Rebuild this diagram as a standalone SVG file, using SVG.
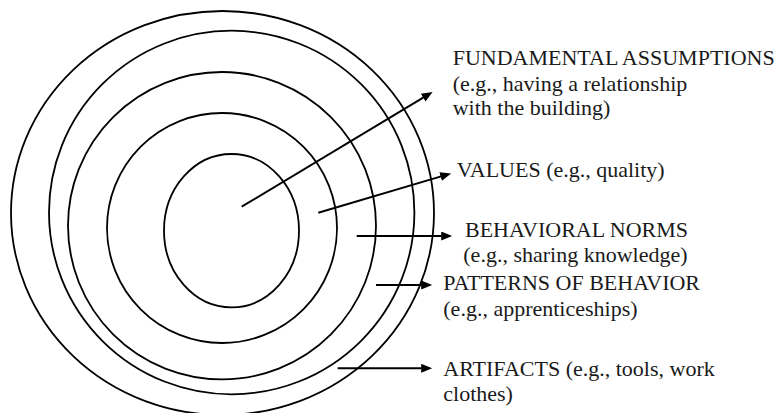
<svg xmlns="http://www.w3.org/2000/svg" width="778" height="413" viewBox="0 0 778 413">
<style>
.ring{fill:none;stroke:#000;stroke-width:1.8}
.conn{stroke:#000;stroke-width:2;fill:none}
.lbl{font-family:'Liberation Serif','Times New Roman',serif;font-size:22px;fill:#1a1a1a}
</style>
<defs>
<marker id="ah" markerUnits="userSpaceOnUse" markerWidth="12" markerHeight="10" refX="0.5" refY="4.5" orient="auto">
<path d="M0,0 L11,4.5 L0,9 z" fill="#000"/>
</marker>
</defs>
<rect width="778" height="413" fill="#fff"/>
<g id="ring-artifacts"><ellipse class="ring" cx="222.5" cy="213" rx="211.5" ry="202"/></g>
<g id="ring-patterns"><ellipse class="ring" cx="231.7" cy="212.5" rx="182.7" ry="181.8"/></g>
<g id="ring-norms"><ellipse class="ring" cx="222" cy="225.7" rx="154" ry="153.7"/></g>
<g id="ring-values"><ellipse class="ring" cx="222" cy="228" rx="115" ry="115"/></g>
<g id="ring-assumptions"><ellipse class="ring" cx="231.5" cy="230.7" rx="67.5" ry="76.7"/></g>
<g id="connectors">
<line class="conn" x1="241.7" y1="206.7" x2="423.6" y2="97.4" marker-end="url(#ah)"/>
<line class="conn" x1="318.3" y1="212.7" x2="441.1" y2="176.4" marker-end="url(#ah)"/>
<line class="conn" x1="356.7" y1="236" x2="441.7" y2="236" marker-end="url(#ah)"/>
<line class="conn" x1="376" y1="285" x2="421.7" y2="285" marker-end="url(#ah)"/>
<line class="conn" x1="337.7" y1="368.3" x2="421.7" y2="368.3" marker-end="url(#ah)"/>
</g>
<g id="label-assumptions" class="lbl">
<text x="452.7" y="65">FUNDAMENTAL ASSUMPTIONS</text>
<text x="452.7" y="90.5">(e.g., having a relationship</text>
<text x="452.7" y="115">with the building)</text>
</g>
<g id="label-values" class="lbl"><text x="456.7" y="176.7">VALUES (e.g., quality)</text></g>
<g id="label-norms" class="lbl">
<text x="465" y="236.7">BEHAVIORAL NORMS</text>
<text x="463.3" y="261.7">(e.g., sharing knowledge)</text>
</g>
<g id="label-patterns" class="lbl">
<text x="443.3" y="290">PATTERNS OF BEHAVIOR</text>
<text x="443.3" y="316">(e.g., apprenticeships)</text>
</g>
<g id="label-artifacts" class="lbl">
<text x="443.3" y="376">ARTIFACTS (e.g., tools, work</text>
<text x="443.3" y="401">clothes)</text>
</g>
</svg>
